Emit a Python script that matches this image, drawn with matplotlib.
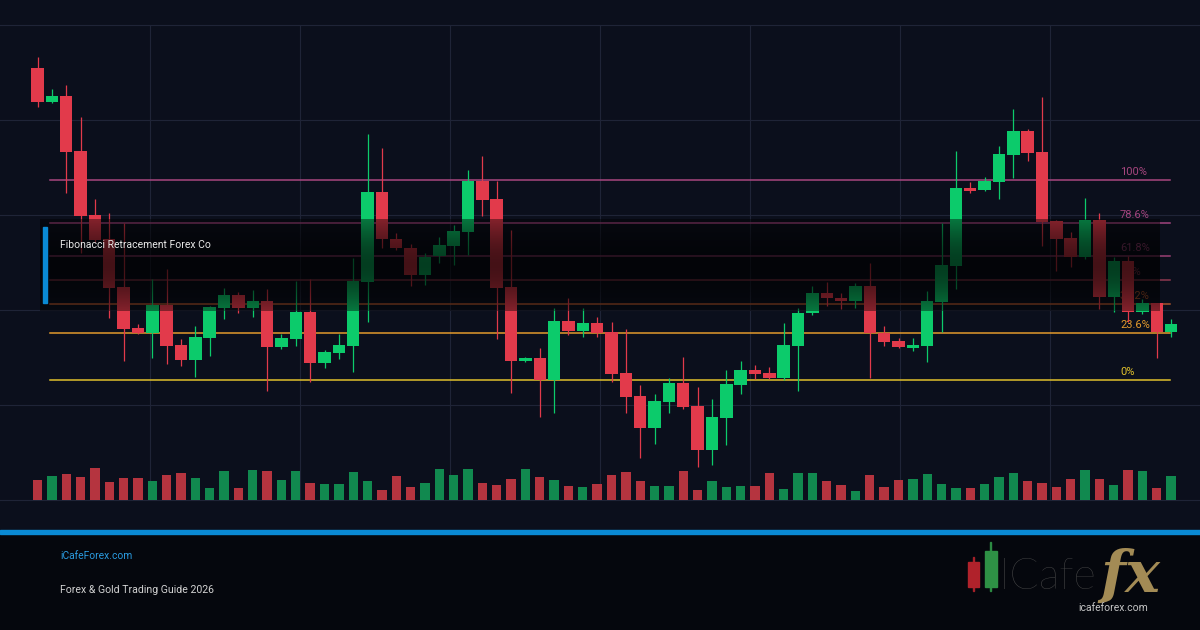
import numpy as np
import matplotlib
matplotlib.use("Agg")
import matplotlib.pyplot as plt
from matplotlib.patches import Rectangle

# OHLC in pips (price * 10000)
opens = np.array([
    11312, 11278, 11284, 11229, 11165, 11141, 11093, 11052, 11047, 11075,
    11035, 11020, 11042, 11072, 11085, 11072, 11079, 11033, 11041, 11068,
    11017, 11027, 11034, 11098, 11188, 11141, 11132, 11105, 11124, 11134,
    11148, 11199, 11181, 11093, 11019, 11022, 11000, 11059, 11049, 11057,
    11048, 11007, 10984, 10952, 10978, 10997, 10974, 10930, 10962, 10995,
    11010, 11007, 11002, 11034, 11067, 11087, 11082, 11079, 11094, 11047,
    11039, 11032, 11034, 11078, 11114, 11192, 11190, 11198, 11225, 11249,
    11228, 11159, 11142, 11123, 11160, 11083, 11119, 11068, 11077, 11048]) / 1e4
highs = np.array([
    11323, 11291, 11295, 11263, 11181, 11167, 11157, 11056, 11101, 11111,
    11041, 11054, 11074, 11092, 11088, 11090, 11091, 11046, 11099, 11101,
    11030, 11046, 11122, 11246, 11232, 11147, 11136, 11127, 11143, 11155,
    11210, 11224, 11199, 11150, 11023, 11032, 11072, 11082, 11072, 11063,
    11058, 11051, 10995, 10986, 11002, 11023, 10993, 10981, 11010, 11019,
    11015, 11013, 11057, 11072, 11094, 11098, 11087, 11097, 11117, 11054,
    11042, 11042, 11089, 11157, 11229, 11198, 11203, 11234, 11271, 11251,
    11283, 11160, 11148, 11182, 11167, 11123, 11124, 11081, 11077, 11061]) / 1e4
lows = np.array([
    11273, 11277, 11187, 11127, 11138, 11062, 11019, 11046, 11022, 11016,
    11014, 11003, 11024, 11061, 11067, 11063, 10989, 11031, 11034, 10998,
    11012, 11021, 11008, 11058, 11132, 11130, 11094, 11095, 11117, 11115,
    11125, 11164, 11041, 10987, 11018, 10963, 10967, 11045, 11043, 11043,
    10998, 10967, 10922, 10936, 10967, 10971, 10913, 10915, 10935, 10986,
    11001, 11001, 11000, 10989, 11065, 11074, 11071, 11072, 11002, 11034,
    11032, 11029, 11018, 11048, 11091, 11187, 11189, 11181, 11202, 11219,
    11134, 11109, 11113, 11121, 11071, 11068, 11058, 11066, 11022, 11043]) / 1e4
closes = np.array([
    11278, 11284, 11228, 11164, 11140, 11092, 11051, 11047, 11075, 11034,
    11020, 11043, 11073, 11085, 11072, 11079, 11033, 11042, 11068, 11017,
    11028, 11035, 11099, 11188, 11141, 11132, 11105, 11123, 11135, 11149,
    11199, 11180, 11092, 11019, 11022, 11000, 11059, 11049, 11057, 11047,
    11006, 10983, 10952, 10979, 10997, 10973, 10930, 10963, 10996, 11010,
    11006, 11002, 11035, 11067, 11087, 11082, 11079, 11094, 11047, 11038,
    11033, 11035, 11079, 11115, 11192, 11189, 11199, 11226, 11249, 11227,
    11158, 11141, 11123, 11160, 11083, 11119, 11068, 11077, 11048, 11056]) / 1e4
volumes = [
    20, 24, 26, 23, 32, 18, 22, 22, 19, 25, 27, 22, 12, 29, 12, 30,
    29, 20, 29, 17, 16, 16, 28, 19, 10, 24, 13, 17, 31, 25, 31, 17,
    15, 21, 31, 23, 20, 14, 13, 16, 25, 28, 19, 14, 14, 29, 10, 19,
    13, 14, 14, 27, 11, 27, 27, 19, 15, 9, 25, 13, 20, 21, 26, 16,
    12, 12, 16, 23, 27, 19, 17, 13, 21, 30, 21, 15, 30, 29, 12, 24]

fib_low, fib_high = 1.1000, 1.1200
fib_ratios = [0, 0.236, 0.382, 0.5, 0.618, 0.786, 1.0]
fib_labels = ["0%", "23.6%", "38.2%", "50%", "61.8%", "78.6%", "100%"]
fib_colors = ["#e0c02c", "#e39a2c", "#a8522c", "#8e3850", "#9a4074", "#a2447e", "#a8467f"]

title = "Fibonacci Retracement Forex Co"
site = "iCafeForex.com"
subtitle = "Forex & Gold Trading Guide 2026"

BG = "#0b0f1c"
GREEN, RED = "#0ccb6b", "#e23a4b"
VGREEN, VRED = "#11894f", "#b5343f"
GRID = "#1f2437"

W, H = 1200, 630
fig = plt.figure(figsize=(12, 6.3), dpi=100, facecolor=BG)
ax = fig.add_axes([0, 130 / H, 1, 475 / H])
ax.set_facecolor(BG)
vax = ax.twinx()

n = len(opens)
x = np.arange(n)
step = 14.35
x0 = -37.5 / step
x1 = x0 + W / step
ymin, ymax = 1.0880, 1.1355

# grid
for px in range(150, 1200, 150):
    ax.axvline((px - 37.5) / step, color=GRID, lw=0.8, zorder=0)
for py in np.linspace(ymin, ymax, 6):
    ax.axhline(py, color=GRID, lw=0.8, zorder=0, clip_on=False)

# fibonacci levels
fx0, fx1 = (50 - 37.5) / step, (1170 - 37.5) / step
lx = (1120 - 37.5) / step
for r, lab, c in zip(fib_ratios, fib_labels, fib_colors):
    lvl = fib_low + r * (fib_high - fib_low)
    ax.plot([fx0, fx1], [lvl, lvl], color=c, lw=1.1, zorder=1)
    ax.annotate(lab, (lx, lvl), xytext=(0, 8), textcoords="offset pixels",
                color=c, fontsize=8, family="Roboto", va="center", ha="left", zorder=1.5)

# candles
up = closes >= opens
cols = np.where(up, GREEN, RED)
ax.vlines(x, lows, highs, colors=cols, lw=0.9, zorder=3)
ax.bar(x, np.abs(closes - opens), bottom=np.minimum(opens, closes), width=0.87,
       color=cols, zorder=3)

# volume
vax.bar(x, volumes, width=0.65, color=np.where(up, VGREEN, VRED))
vax.set_ylim(0, 475)
vax.axis("off")

# dark overlay band behind the title
top = fib_low + 0.786 * (fib_high - fib_low) + 0.0004
bot = fib_low + 0.382 * (fib_high - fib_low) - 0.0007
t = np.linspace(0, 1, 100)
grad = np.zeros((100, 1, 4))
grad[:, 0, 3] = 0.42 + 0.28 * np.sin(np.pi * t)
ax.imshow(grad, extent=[(40 - 37.5) / step, (1160 - 37.5) / step, bot, top],
          aspect="auto", zorder=4, interpolation="bilinear")

ax.set_xlim(x0, x1)
ax.set_ylim(ymin, ymax)
ax.axis("off")
vax.set_xlim(x0, x1)

# title block
fig.add_artist(Rectangle((43 / W, 1 - 303 / H), 4 / W, 76 / H,
                         transform=fig.transFigure, color="#0a8ad4", zorder=5))
fig.text(60 / W, 1 - 245 / H, title, color="#e8e8e8", fontsize=7.5,
         family="Roboto", va="center", zorder=6)

# footer
fig.add_artist(Rectangle((0, 0), 1, 97 / H, transform=fig.transFigure,
                         color="#05070d", zorder=1))
fig.add_artist(Rectangle((0, 1 - 533.5 / H), 1, 4 / H, transform=fig.transFigure,
                         color="#0a8ad4", zorder=2))
fig.text(60 / W, 1 - 556 / H, site, color="#2a9be0", fontsize=7.4,
         family="Roboto", va="center")
fig.text(60 / W, 1 - 590 / H, subtitle, color="#d2d2d2", fontsize=7.6,
         family="Roboto", va="center")

# logo
fig.add_artist(Rectangle((973 / W, 1 - 591 / H), 1 / W, 34 / H,
                         transform=fig.transFigure, color="#a52028", zorder=3))
fig.add_artist(Rectangle((968 / W, 1 - 587 / H), 11 / W, 25 / H,
                         transform=fig.transFigure, color="#b0222b", zorder=4))
fig.add_artist(Rectangle((990 / W, 1 - 591 / H), 1 / W, 49 / H,
                         transform=fig.transFigure, color="#2c8a42", zorder=3))
fig.add_artist(Rectangle((985 / W, 1 - 587 / H), 12 / W, 36 / H,
                         transform=fig.transFigure, color="#2e9145", zorder=4))
fig.text(999 / W, 1 - 589 / H, "ICafe", color="#4e4e4e", fontsize=31,
         family="Lato", fontweight="light", va="baseline")
fig.text(1100 / W, 1 - 592 / H, "fx", color="#a38b55", fontsize=42,
         family="DejaVu Serif", style="italic", fontweight="bold", va="baseline")
fig.text(1113 / W, 1 - 608 / H, "icafeforex.com", color="#c4c4c4", fontsize=7.5,
         family="Roboto", va="center", ha="center")

fig.savefig("out.png", dpi=100, facecolor=BG)
